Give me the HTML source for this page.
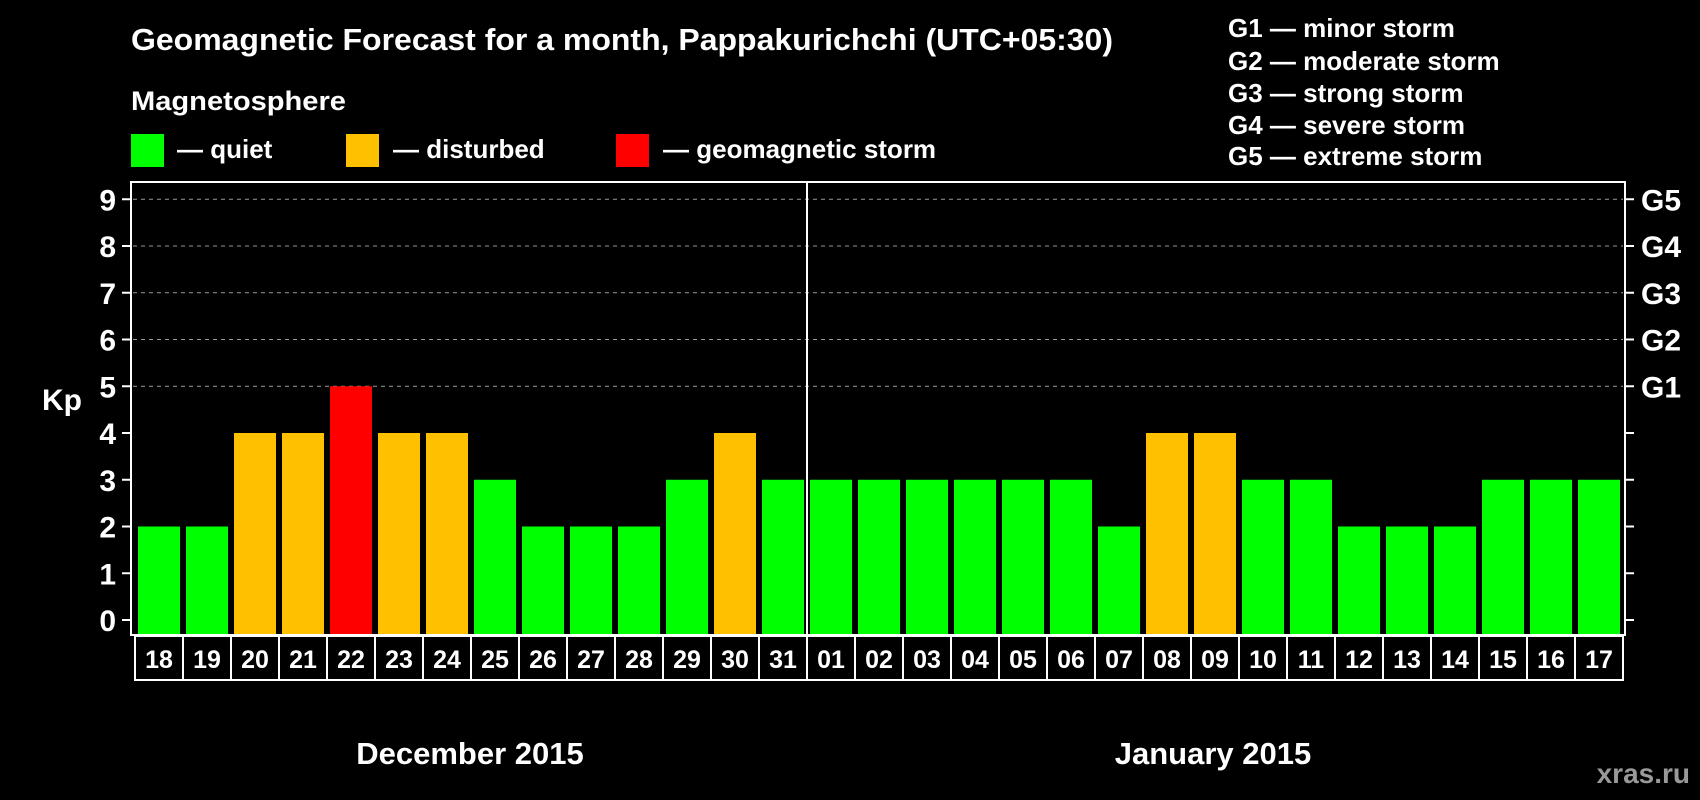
<!DOCTYPE html>
<html><head><meta charset="utf-8"><style>
html,body{margin:0;padding:0;background:#000;}
svg{display:block;font-family:"Liberation Sans",Arial,sans-serif;font-weight:bold;}
</style></head><body>
<svg id="chart" width="1700" height="800" viewBox="0 0 1700 800" xmlns="http://www.w3.org/2000/svg">
<rect width="1700" height="800" fill="#000"/>
<text x="131" y="50" fill="#fff" font-size="31" textLength="982" lengthAdjust="spacingAndGlyphs">Geomagnetic Forecast for a month, Pappakurichchi (UTC+05:30)</text>
<text x="131" y="110" fill="#fff" font-size="27" textLength="215" lengthAdjust="spacingAndGlyphs">Magnetosphere</text>
<rect x="131" y="134" width="33" height="33" fill="#00ff00"/>
<text x="177" y="158" fill="#fff" font-size="26">— quiet</text>
<rect x="346" y="134" width="33" height="33" fill="#ffc000"/>
<text x="393" y="158" fill="#fff" font-size="26">— disturbed</text>
<rect x="616" y="134" width="33" height="33" fill="#ff0000"/>
<text x="663" y="158" fill="#fff" font-size="26">— geomagnetic storm</text>
<g fill="#fff" font-size="26">
<text x="1228" y="37">G1 — minor storm</text>
<text x="1228" y="70">G2 — moderate storm</text>
<text x="1228" y="102">G3 — strong storm</text>
<text x="1228" y="134">G4 — severe storm</text>
<text x="1228" y="165">G5 — extreme storm</text>
</g>
<text x="42" y="410" fill="#fff" font-size="30">Kp</text>
<g id="grid"></g>
<g id="bars"></g>
<rect x="131" y="182" width="1494" height="453" fill="none" stroke="#fff" stroke-width="2"/>
<g id="axes"></g>
<text x="470" y="764" fill="#fff" font-size="31" text-anchor="middle">December 2015</text>
<text x="1213" y="764" fill="#fff" font-size="31" text-anchor="middle">January 2015</text>
<text x="1690" y="783" fill="#999" font-size="28" text-anchor="end">xras.ru</text>
</svg>
<script>
const days = ["18","19","20","21","22","23","24","25","26","27","28","29","30","31","01","02","03","04","05","06","07","08","09","10","11","12","13","14","15","16","17"];
const kpValues = [2,2,4,4,5,4,4,3,2,2,2,3,4,3,3,3,3,3,3,3,2,4,4,3,3,2,2,2,3,3,3];
const yTicks = [0,1,2,3,4,5,6,7,8,9];
const gLabels = ["G1","G2","G3","G4","G5"];
const gLevels = [5,6,7,8,9];
const monthBreakIndex = 14;

const NS="http://www.w3.org/2000/svg";
const y0=620, unit=46.75, x0=138, pitch=48, bw=42, boxL=135;
const yS=v=>y0-v*unit;
const xS=i=>x0+i*pitch;
function mk(t,a,p){const e=document.createElementNS(NS,t);for(const k in a)e.setAttribute(k,a[k]);p.appendChild(e);return e;}
const grid=document.getElementById('grid'),bars=document.getElementById('bars'),axes=document.getElementById('axes');
gLevels.forEach(v=>{
  const l=mk('line',{x1:133,x2:1623,y1:yS(v),y2:yS(v),stroke:'#999','stroke-dasharray':'4,4','stroke-width':1},grid);
  
  
});
kpValues.forEach((v,i)=>{
  const c=v>=5?'#ff0000':(v>=4?'#ffc000':'#00ff00');
  const r=mk('rect',{x:xS(i),y:yS(v),width:bw,height:634-yS(v),fill:c},bars);
  
  
});
const div=mk('line',{x1:xS(monthBreakIndex)-3,x2:xS(monthBreakIndex)-3,y1:182,y2:635,stroke:'#fff','stroke-width':2},axes);


yTicks.forEach(v=>{
  mk('line',{x1:122,x2:131,y1:yS(v),y2:yS(v),stroke:'#fff','stroke-width':2},axes);
  mk('line',{x1:1625,x2:1634,y1:yS(v),y2:yS(v),stroke:'#fff','stroke-width':2},axes);
  const t=mk('text',{x:116,y:yS(v)+11,fill:'#fff','font-size':30,'text-anchor':'end'},axes);
  t.textContent=v;
  
  
});
gLabels.forEach((g,i)=>{
  const t=mk('text',{x:1641,y:yS(gLevels[i])+11,fill:'#fff','font-size':30},axes);
  t.textContent=g;
  
  
});
days.forEach((d,i)=>{
  const bx=boxL+i*pitch;
  const r=mk('rect',{x:bx,y:636,width:pitch,height:44,fill:'none',stroke:'#fff','stroke-width':2},axes);
  
  
  const t=mk('text',{x:bx+pitch/2,y:668,fill:'#fff','font-size':25,'text-anchor':'middle'},axes);
  t.textContent=d;
  
  
});
</script>
</body></html>
